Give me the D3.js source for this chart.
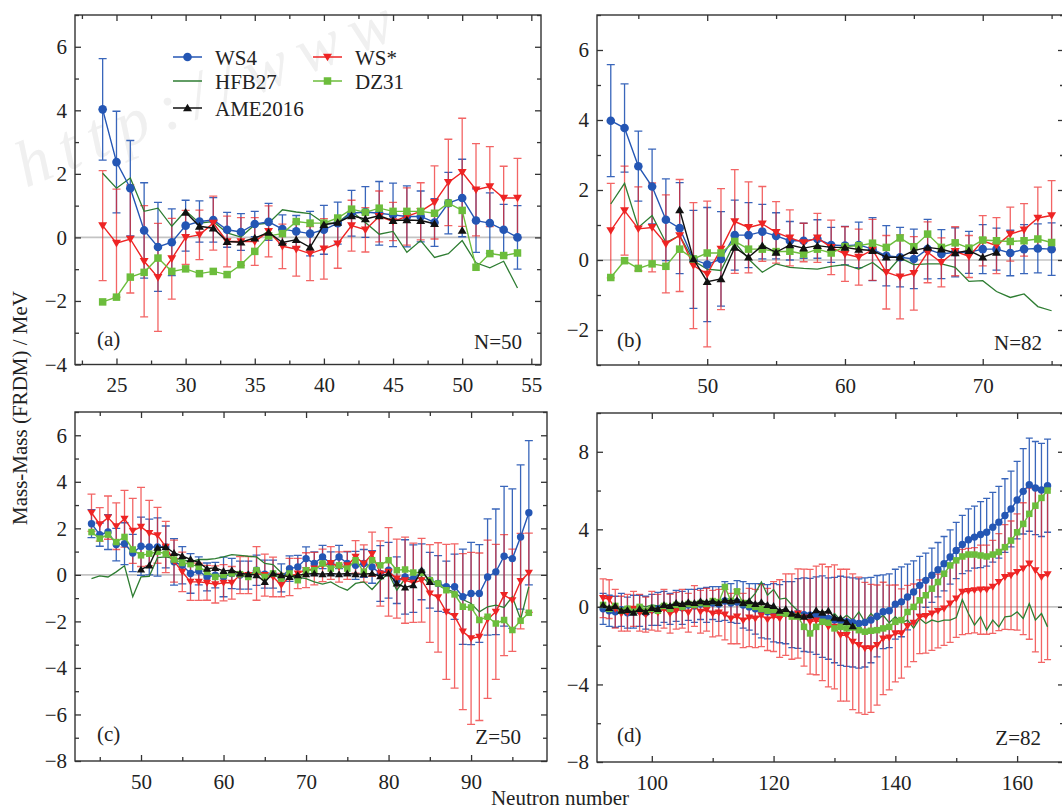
<!DOCTYPE html>
<html><head><meta charset="utf-8">
<script src="https://cdn.jsdelivr.net/npm/d3@7"></script>
<style>
body{margin:0;background:#fff}
svg{display:block}
</style>
</head><body>
<svg id="chart" width="1062" height="810"></svg>
<script>
// ---------------- DATA ----------------
const seriesNames = ["WS4", "HFB27", "AME2016", "WS*", "DZ31"];
const panelTags = ["(a)", "(b)", "(c)", "(d)"];
const panelNames = ["N=50", "N=82", "Z=50", "Z=82"];

// Panel (a) N=50, x = 24..54
const a_start = 24, a_ame_start = 30;
const a_ws4 = [4.03,2.37,1.55,0.22,-0.30,-0.15,0.37,0.50,0.55,0.24,0.17,0.42,0.49,0.26,0.19,0.12,0.24,0.45,0.76,0.80,0.76,0.71,0.66,0.66,0.47,1.08,1.24,0.53,0.45,0.24,0.00];
const a_ws4_err = [1.6,1.6,1.5,1.5,1.4,1.05,0.8,0.65,0.7,0.55,0.58,0.4,0.58,0.45,0.5,0.7,0.77,0.66,0.72,0.8,1.0,1.0,0.96,0.8,0.75,0.97,1.22,1.0,0.95,0.8,1.0];
const a_wss = [0.37,-0.18,-0.05,-0.75,-1.26,-0.67,0.0,0.08,0.45,-0.13,-0.13,-0.13,0.19,-0.28,-0.37,-0.51,-0.36,-0.2,0.37,0.24,0.66,0.5,0.66,0.82,1.1,1.73,2.05,1.5,1.6,1.24,1.24];
const a_wss_err = [1.73,1.7,1.7,1.75,1.7,1.27,0.85,0.78,0.85,0.8,0.75,0.75,0.8,0.7,0.85,0.85,0.95,0.77,0.8,0.7,0.8,0.6,0.9,0.9,1.15,1.36,1.7,1.45,1.26,1.0,1.25];
const a_ame = [0.79,0.35,0.29,-0.13,-0.15,-0.02,0.16,-0.16,-0.07,-0.31,0.4,0.47,0.68,0.58,0.68,0.53,0.55,0.53,0.43,null,0.22];
const a_dz = [-2.03,-1.88,-1.25,-1.1,-0.65,-1.07,-0.99,-1.14,-1.07,-1.17,-0.86,-0.44,0.05,0.12,0.5,0.45,0.45,0.61,0.89,0.79,0.92,0.82,0.82,0.82,0.76,1.08,0.85,-0.94,-0.51,-0.57,-0.49];
const a_hfb = [2.02,1.55,1.87,0.82,0.92,0.35,0.84,0.45,0.5,0.14,0.01,0.4,0.45,0.87,0.8,0.75,0.45,0.45,0.82,0.47,0.1,0.19,-0.47,-0.1,-0.63,-0.51,-0.1,-0.8,-0.96,-0.75,-1.59];

// Panel (b) N=82, x = 43..75
const b_start = 43, b_ame_start = 48;
const b_ws4 = [3.98,3.77,2.68,2.1,1.15,0.91,0.02,-0.13,0.03,0.71,0.71,0.81,0.69,0.55,0.55,0.6,0.43,0.41,0.43,0.31,0.12,0.08,0.03,0.31,0.17,0.22,0.22,0.31,0.31,0.2,0.31,0.33,0.31];
const b_ws4_err = [1.6,1.26,1.0,1.07,1.17,1.3,1.4,1.63,1.35,1.0,0.93,0.78,0.66,0.55,0.5,0.55,0.5,0.55,0.65,0.9,0.86,0.85,0.85,0.85,0.7,0.7,0.6,0.7,0.6,0.65,0.7,0.7,0.75];
const b_wss = [0.84,1.41,0.89,0.93,0.46,0.7,-0.16,-0.4,0.31,1.1,0.93,1.03,0.79,0.63,0.5,0.63,0.36,0.17,0.08,0.29,-0.35,-0.48,-0.38,0.22,-0.07,0.25,0.1,0.55,0.41,0.74,0.86,1.2,1.27];
const b_wss_err = [1.35,1.27,1.2,1.27,1.4,1.6,1.8,2.08,1.73,1.48,1.3,1.07,0.88,0.8,0.55,0.7,0.78,0.78,0.8,0.87,1.05,1.2,1.05,0.87,0.7,0.7,0.6,0.72,0.8,0.77,0.75,0.88,1.0];
const b_ame = [1.43,0.03,-0.62,-0.54,0.36,0.08,0.41,0.22,0.43,0.34,0.41,0.36,0.36,0.3,0.27,0.08,0.08,0.27,0.36,0.31,0.2,0.27,0.08,0.22];
const b_dz = [-0.5,-0.02,-0.24,-0.11,-0.18,0.31,0.03,0.2,0.2,0.53,0.31,0.31,0.24,0.25,0.17,0.31,0.2,0.38,0.41,0.48,0.36,0.63,0.38,0.74,0.36,0.49,0.34,0.57,0.55,0.53,0.55,0.6,0.5];
const b_hfb = [1.6,2.19,0.93,1.27,0.5,0.7,-0.02,-0.26,-0.3,0.5,0.03,-0.35,-0.11,-0.21,-0.24,-0.26,-0.18,-0.13,-0.26,-0.07,-0.38,0.06,-0.13,-0.11,-0.11,-0.21,-0.61,-0.59,-0.9,-1.07,-0.97,-1.33,-1.45];

// Panel (c) Z=50, x = 44..97
const c_start = 44, c_ame_start = 50;
const c_ws4 = [2.2,1.73,1.84,1.3,1.34,0.94,1.23,1.2,1.2,1.2,0.56,0.41,0.06,0.17,-0.09,-0.01,-0.09,0.06,-0.01,-0.01,0.2,0.03,0.03,-0.13,0.27,0.34,0.7,0.49,0.77,0.49,0.77,0.49,0.41,0.49,0.34,0.06,0.2,-0.23,-0.09,-0.16,0.13,-0.23,-0.37,-0.51,-0.51,-0.94,-0.8,-0.8,-0.09,0.13,0.8,0.7,1.63,2.67];
const c_ws4_err = [0.6,0.5,0.75,0.7,0.9,0.8,1.25,1.2,1.25,0.9,1.0,0.8,0.85,0.6,0.6,0.55,0.85,0.65,0.6,0.6,0.65,0.6,0.6,0.6,0.55,0.5,0.5,0.5,0.5,0.5,0.5,0.5,0.6,0.6,0.7,1.2,1.2,1.0,1.6,1.45,1.2,1.2,1.2,1.1,1.4,2.05,2.2,2.1,2.5,2.7,3.0,3.0,3.1,3.1];
const c_wss = [2.67,2.17,2.46,2.09,2.41,1.89,2.06,1.8,1.7,1.2,0.59,0.13,-0.3,-0.3,-0.34,-0.41,-0.34,-0.34,-0.01,-0.01,0.06,-0.01,-0.09,-0.44,-0.09,0.06,0.2,0.27,0.41,0.51,0.34,0.41,0.77,0.49,0.89,0.06,0.13,-0.16,-0.23,-0.34,-0.23,-0.8,-0.97,-1.59,-1.77,-2.44,-2.73,-2.66,-1.91,-1.59,-0.87,-1.09,-0.27,0.09];
const c_wss_err = [0.8,0.72,0.93,1.0,1.22,1.4,1.7,1.4,1.2,1.1,0.9,0.85,0.8,0.8,0.75,0.8,0.78,0.7,0.8,0.8,1.15,0.9,0.85,0.5,0.8,0.65,0.75,0.7,0.7,0.7,0.65,0.6,0.7,0.8,0.95,1.4,1.9,1.7,1.85,1.7,1.8,2.1,2.35,2.9,3.1,3.35,3.7,3.6,3.4,2.9,2.6,2.2,2.05,1.7];
const c_ame = [0.23,0.41,1.17,1.2,0.94,0.81,0.67,0.53,0.27,0.3,0.17,0.2,0.06,0.03,-0.01,-0.3,0.06,-0.01,-0.09,-0.01,0.03,0.06,0.03,0.06,0.03,0.06,0.03,0.03,0.06,-0.06,0.06,-0.37,-0.54,-0.44,0.2,-0.3];
const c_dz = [1.84,1.56,1.73,1.41,1.63,1.09,0.84,0.91,0.99,0.91,0.66,0.51,0.46,0.34,0.13,-0.09,-0.01,0.06,0.03,-0.09,0.2,-0.09,0.06,-0.16,0.06,-0.23,0.2,0.2,0.49,0.27,0.41,0.27,0.63,0.13,0.63,0.41,0.63,0.2,0.23,0.1,0.09,-0.23,-0.37,-0.66,-0.84,-1.37,-1.4,-1.94,-1.8,-2.09,-1.94,-2.37,-1.97,-1.63];
const c_hfb = [-0.16,-0.04,-0.09,0.13,0.39,-0.94,-0.09,-0.06,0.74,0.77,0.7,0.66,0.56,0.66,0.66,0.7,0.77,0.87,0.84,0.8,0.77,0.49,0.44,0.09,-0.06,-0.11,-0.16,-0.3,-0.4,-0.3,-0.51,-0.66,-0.37,-0.3,-0.63,-0.23,0.06,-0.66,-0.16,-0.23,-0.09,-0.37,-0.44,-0.63,-0.73,-1.06,-1.23,-1.59,-1.37,-1.3,-1.4,-0.94,-1.91,-0.51];

// Panel (d) Z=82, x = 92..165
const d_start = 92, d_ame_start = 92;
const d_ws4 = [-0.1,-0.2,-0.25,-0.15,-0.3,-0.25,-0.2,-0.3,-0.15,-0.1,0.0,-0.1,0.05,-0.05,0.1,0.05,0.15,0.1,0.2,0.15,0.3,0.2,0.25,0.1,0.0,-0.1,-0.2,-0.25,-0.3,-0.35,-0.3,-0.4,-0.34,-0.4,-0.43,-0.45,-0.5,-0.6,-0.68,-0.72,-0.77,-0.8,-0.86,-0.8,-0.68,-0.48,-0.25,-0.2,0.14,0.26,0.51,0.77,1.11,1.37,1.63,1.92,2.23,2.57,2.91,3.22,3.46,3.6,3.73,3.85,4.11,4.37,4.71,5.05,5.51,5.96,6.3,6.13,6.03,6.25];
const d_ws4_err = [0.8,0.8,0.8,0.85,0.8,0.85,0.8,0.85,0.8,0.85,0.8,0.8,0.8,0.85,0.8,0.85,0.8,0.9,0.85,0.9,1.0,1.0,1.1,1.2,1.2,1.3,1.4,1.4,1.5,1.5,1.6,1.7,1.8,1.9,1.9,2.0,2.1,2.1,2.2,2.3,2.3,2.3,2.3,2.3,2.2,2.1,1.9,1.9,1.8,1.8,1.7,1.6,1.5,1.4,1.4,1.4,1.4,1.4,1.45,1.5,1.6,1.6,1.7,1.75,1.8,1.85,1.9,1.95,2.0,2.2,2.4,2.4,2.4,2.4];
const d_wss = [0.45,0.4,-0.1,-0.35,-0.3,-0.1,-0.3,-0.4,-0.2,-0.3,-0.1,-0.35,-0.2,-0.1,-0.3,0.05,-0.25,-0.15,-0.35,-0.3,-0.4,-0.6,-0.5,-0.7,-0.55,-0.6,-0.45,-0.65,-0.5,-0.6,-0.4,-0.5,-0.34,-0.55,-0.77,-0.7,-0.8,-1.03,-1.03,-1.46,-1.46,-1.8,-1.97,-2.14,-2.14,-1.97,-1.63,-1.58,-1.37,-1.37,-0.99,-0.82,-0.51,-0.48,-0.34,-0.21,-0.09,0.17,0.43,0.77,0.82,0.86,0.89,0.89,1.03,1.28,1.54,1.63,1.8,1.97,2.23,1.88,1.54,1.68];
const d_wss_err = [1.0,1.0,1.0,0.9,0.95,0.9,0.95,0.9,1.0,0.95,1.0,1.0,0.95,1.0,1.0,1.05,1.1,1.1,1.2,1.2,1.3,1.3,1.4,1.4,1.5,1.5,1.6,1.6,1.8,2.0,2.1,2.2,2.3,2.5,2.7,2.8,3.0,3.1,3.2,3.4,3.4,3.5,3.5,3.4,3.3,3.1,2.9,2.7,2.5,2.3,2.1,2.0,1.9,1.9,1.9,1.9,1.9,2.0,2.0,2.2,2.2,2.2,2.3,2.3,2.4,2.5,2.7,2.8,3.0,3.4,3.9,4.2,4.4,4.4];
const d_ame = [0.1,-0.05,0.05,-0.2,-0.15,-0.3,-0.1,-0.25,-0.05,-0.1,0.1,0.05,0.2,0.15,0.25,0.2,0.3,0.25,0.3,0.2,0.35,0.3,0.35,0.2,0.3,0.15,0.25,0.1,0.05,-0.2,-0.1,-0.35,-0.43,-0.5,-0.43,-0.17,-0.3,-0.2,-0.55,-0.6,-0.77,-1.0];
const d_dz = [0.1,-0.1,0.05,-0.2,-0.1,-0.25,0.0,-0.2,-0.1,-0.2,0.05,-0.1,0.1,0.0,0.15,0.1,0.2,0.15,0.3,0.25,1.03,0.3,0.8,0.2,0.1,0.0,-0.1,-0.2,-0.15,-0.3,-0.35,-0.5,-0.5,-1.03,-1.37,-1.03,-0.77,-0.82,-1.11,-1.03,-1.11,-1.06,-1.2,-1.28,-1.23,-1.2,-1.11,-1.03,-0.77,-0.68,-0.26,0.0,0.34,0.6,0.94,1.28,1.71,2.14,2.4,2.6,2.7,2.7,2.65,2.6,2.7,2.83,3.08,3.42,3.85,4.28,4.8,5.22,5.62,6.0];
const d_hfb = [-0.1,-0.05,0.0,-0.1,0.05,-0.05,0.1,0.0,0.1,0.05,0.15,0.1,0.2,0.15,0.25,0.2,0.3,0.25,0.3,0.3,0.4,0.35,0.4,0.3,0.35,0.7,1.29,0.6,0.9,0.4,0.45,0.1,-0.2,-0.5,-0.34,-0.6,-0.17,-0.68,-0.34,-0.68,-0.43,-0.68,-0.26,-0.77,-0.34,-0.68,-0.43,-0.82,-0.51,-0.82,-0.68,-1.1,-0.6,-0.86,-0.68,-0.77,-0.68,-0.68,-0.55,0.38,-0.34,-0.94,-0.51,-1.2,-0.68,-1.03,-0.51,-0.48,-0.26,-0.6,0.17,-0.68,-0.34,-1.03];

// Axis ticks
const a_xMajor = [25,30,35,40,45,50,55], a_xMinor = [22.5,27.5,32.5,37.5,42.5,47.5,52.5];
const a_yMajor = [-4,-2,0,2,4,6], a_yMinor = [-3,-1,1,3,5,7];
const b_xMajor = [50,60,70], b_xMinor = [45,55,65,75];
const b_yMajor = [-2,0,2,4,6], b_yMinor = [-3,-1,1,3,5,7];
const c_xMajor = [50,60,70,80,90], c_xMinor = [45,55,65,75,85,95];
const c_yMajor = [-8,-6,-4,-2,0,2,4,6], c_yMinor = [-7,-5,-3,-1,1,3,5,7];
const d_xMajor = [100,120,140,160], d_xMinor = [110,130,150];
const d_yMajor = [-8,-4,0,4,8], d_yMinor = [-6,-2,2,6,10];

// ---------------- STYLE ----------------
const FONT = "'Liberation Serif', 'Times New Roman', serif";
const COL = {ws4:"#2456b4", hfb:"#2e7d32", ame:"#111111", wss:"#ee2424", dz:"#6cbd3c"};
const svg = d3.select("#chart").style("font-family", FONT);
const fmt = v => (v < 0 ? "\u2212" + Math.abs(v) : String(v));
const txt = (sel) => sel.style("font-family", FONT).style("fill", "#222");

// faint watermark
svg.append("text").attr("transform","translate(26,188) rotate(-22)")
  .attr("font-size",66).attr("font-style","italic").style("font-family",FONT).style("fill","#f0f0f0")
  .attr("letter-spacing",12).text("http://www");

function pts(start, vals, errs) {
  return vals.map((v,i) => ({x:start+i, y:v, e: errs ? errs[i] : null}));
}

const triDown = d3.symbol().type({draw(ctx,size){const r=Math.sqrt(size/1.3);ctx.moveTo(-r,-r*0.75);ctx.lineTo(r,-r*0.75);ctx.lineTo(0,r*0.95);ctx.closePath();}});
const triUp = d3.symbol().type({draw(ctx,size){const r=Math.sqrt(size/1.3);ctx.moveTo(-r,r*0.75);ctx.lineTo(r,r*0.75);ctx.lineTo(0,-r*0.95);ctx.closePath();}});

function drawPanel(cfg) {
  const x = d3.scaleLinear().domain(cfg.xd).range([cfg.L, cfg.R]);
  const y = d3.scaleLinear().domain(cfg.yd).range([cfg.B, cfg.T]);
  const g = svg.append("g");
  const clipId = "clip" + cfg.id;
  g.append("clipPath").attr("id", clipId).append("rect")
    .attr("x", cfg.L).attr("y", cfg.T).attr("width", cfg.R-cfg.L).attr("height", cfg.B-cfg.T);
  const plot = g.append("g").attr("clip-path", `url(#${clipId})`);

  plot.append("line").attr("x1",cfg.L).attr("x2",cfg.R).attr("y1",y(0)).attr("y2",y(0))
    .attr("stroke","#c4c4c4").attr("stroke-width",1.6);

  const ms = cfg.ms;
  const errbars = (data, color, op) => {
    const eg = plot.append("g").attr("stroke", color).attr("stroke-width",1.3).attr("opacity",op).attr("fill","none");
    data.forEach(d => {
      const xx = x(d.x), y1 = y(d.y + d.e), y2 = y(d.y - d.e), cw = cfg.cap;
      eg.append("path").attr("d", `M${xx},${y1}V${y2}M${xx-cw},${y1}H${xx+cw}M${xx-cw},${y2}H${xx+cw}`);
    });
  };
  const line = d3.line().defined(d => d.y !== null).x(d => x(d.x)).y(d => y(d.y));
  const drawLine = (data, color, w) => plot.append("path").datum(data).attr("d", line)
    .attr("fill","none").attr("stroke",color).attr("stroke-width",w);

  const ws4 = pts(cfg.start, cfg.ws4, cfg.ws4e);
  const wss = pts(cfg.start, cfg.wss, cfg.wsse);
  const ame = pts(cfg.ameStart, cfg.ame);
  const dz = pts(cfg.start, cfg.dz);
  const hfb = pts(cfg.start, cfg.hfb);

  errbars(ws4, COL.ws4, 0.9);
  errbars(wss, COL.wss, 0.7);
  drawLine(hfb, COL.hfb, 1.3);
  drawLine(ws4, COL.ws4, 1.4);
  plot.append("g").selectAll("circle").data(ws4).join("circle")
    .attr("cx", d=>x(d.x)).attr("cy", d=>y(d.y)).attr("r", ms.c).attr("fill", COL.ws4);
  drawLine(wss, COL.wss, 1.4);
  plot.append("g").selectAll("path").data(wss).join("path")
    .attr("transform", d=>`translate(${x(d.x)},${y(d.y)})`).attr("d", triDown.size(ms.t)).attr("fill", COL.wss);
  drawLine(dz, COL.dz, 1.4);
  plot.append("g").selectAll("rect").data(dz).join("rect")
    .attr("x", d=>x(d.x)-ms.s/2).attr("y", d=>y(d.y)-ms.s/2).attr("width", ms.s).attr("height", ms.s).attr("fill", COL.dz);
  drawLine(ame, COL.ame, 1.4);
  plot.append("g").selectAll("path").data(ame.filter(d=>d.y!==null)).join("path")
    .attr("transform", d=>`translate(${x(d.x)},${y(d.y)})`).attr("d", triUp.size(ms.t)).attr("fill", COL.ame);

  g.append("rect").attr("x",cfg.L).attr("y",cfg.T).attr("width",cfg.R-cfg.L).attr("height",cfg.B-cfg.T)
    .attr("fill","none").attr("stroke","#333").attr("stroke-width",1.4);

  g.append("g").attr("transform",`translate(0,${cfg.B})`)
    .call(d3.axisBottom(x).tickValues(cfg.xMajor).tickSize(-6).tickPadding(13).tickFormat(fmt));
  g.append("g").attr("transform",`translate(0,${cfg.B})`)
    .call(d3.axisBottom(x).tickValues(cfg.xMinor).tickSize(-4).tickFormat(""));
  g.append("g").attr("transform",`translate(0,${cfg.T})`)
    .call(d3.axisTop(x).tickValues(cfg.xMajor).tickSize(-6).tickFormat(""));
  g.append("g").attr("transform",`translate(0,${cfg.T})`)
    .call(d3.axisTop(x).tickValues(cfg.xMinor).tickSize(-4).tickFormat(""));
  g.append("g").attr("transform",`translate(${cfg.L},0)`)
    .call(d3.axisLeft(y).tickValues(cfg.yMajor).tickSize(-6).tickPadding(8).tickFormat(fmt));
  g.append("g").attr("transform",`translate(${cfg.L},0)`)
    .call(d3.axisLeft(y).tickValues(cfg.yMinor).tickSize(-4).tickFormat(""));
  g.append("g").attr("transform",`translate(${cfg.R},0)`)
    .call(d3.axisRight(y).tickValues(cfg.yMajor).tickSize(-6).tickFormat(""));
  g.append("g").attr("transform",`translate(${cfg.R},0)`)
    .call(d3.axisRight(y).tickValues(cfg.yMinor).tickSize(-4).tickFormat(""));
  g.selectAll(".domain").remove();
  g.selectAll(".tick line").attr("stroke","#333").attr("stroke-width",1.3);
  g.selectAll(".tick text").attr("font-size",21).call(txt);

  g.append("text").attr("x", cfg.tagX).attr("y", cfg.tagY).attr("font-size",21).call(txt).text(cfg.tag);
  g.append("text").attr("x", cfg.nameX).attr("y", cfg.tagY+3).attr("font-size",21).call(txt)
    .attr("text-anchor","end").text(cfg.name);
}

const msBig = {c:4.3, t:26, s:7.5};
const msSmall = {c:3.7, t:22, s:6.5};

drawPanel({id:"a", xd:[22,55.7], yd:[-4,7], L:75, R:541, T:15, B:364.5,
  start:a_start, ameStart:a_ame_start, ws4:a_ws4, ws4e:a_ws4_err, wss:a_wss, wsse:a_wss_err,
  ame:a_ame, dz:a_dz, hfb:a_hfb, xMajor:a_xMajor, xMinor:a_xMinor, yMajor:a_yMajor, yMinor:a_yMinor,
  ms:msBig, cap:4, tag:panelTags[0], name:panelNames[0], tagX:97, tagY:346, nameX:522});

drawPanel({id:"b", xd:[42,75.9], yd:[-3,7], L:597, R:1064, T:15, B:365,
  start:b_start, ameStart:b_ame_start, ws4:b_ws4, ws4e:b_ws4_err, wss:b_wss, wsse:b_wss_err,
  ame:b_ame, dz:b_dz, hfb:b_hfb, xMajor:b_xMajor, xMinor:b_xMinor, yMajor:b_yMajor, yMinor:b_yMinor,
  ms:msBig, cap:4, tag:panelTags[1], name:panelNames[1], tagX:617, tagY:347, nameX:1042});

drawPanel({id:"c", xd:[42,99.2], yd:[-8,7], L:75, R:547, T:412, B:761,
  start:c_start, ameStart:c_ame_start, ws4:c_ws4, ws4e:c_ws4_err, wss:c_wss, wsse:c_wss_err,
  ame:c_ame, dz:c_dz, hfb:c_hfb, xMajor:c_xMajor, xMinor:c_xMinor, yMajor:c_yMajor, yMinor:c_yMinor,
  ms:msSmall, cap:4, tag:panelTags[2], name:panelNames[2], tagX:97, tagY:741, nameX:521});

drawPanel({id:"d", xd:[91,167.7], yd:[-8,10], L:597, R:1064, T:413, B:762,
  start:d_start, ameStart:d_ame_start, ws4:d_ws4, ws4e:d_ws4_err, wss:d_wss, wsse:d_wss_err,
  ame:d_ame, dz:d_dz, hfb:d_hfb, xMajor:d_xMajor, xMinor:d_xMinor, yMajor:d_yMajor, yMinor:d_yMinor,
  ms:msSmall, cap:3.5, tag:panelTags[3], name:panelNames[3], tagX:617, tagY:742, nameX:1041});

// axis titles
svg.append("text").attr("x",560).attr("y",805).attr("text-anchor","middle").attr("font-size",21).call(txt).text("Neutron number");
svg.append("text").attr("transform","translate(27,408) rotate(-90)").attr("text-anchor","middle")
  .attr("font-size",21).call(txt).text("Mass-Mass (FRDM) / MeV");

// legend (panel a)
const legend = [
  {name:seriesNames[0], col:COL.ws4, mk:"c", x:173, y:57},
  {name:seriesNames[1], col:COL.hfb, mk:null, x:173, y:81},
  {name:seriesNames[2], col:COL.ame, mk:"u", x:173, y:108},
  {name:seriesNames[3], col:COL.wss, mk:"d", x:313, y:57},
  {name:seriesNames[4], col:COL.dz, mk:"s", x:313, y:81}
];
const lg = svg.append("g");
legend.forEach(l => {
  lg.append("line").attr("x1",l.x).attr("x2",l.x+29).attr("y1",l.y).attr("y2",l.y).attr("stroke",l.col).attr("stroke-width",1.5);
  const cx = l.x+14.5;
  if (l.mk==="c") lg.append("circle").attr("cx",cx).attr("cy",l.y).attr("r",4.3).attr("fill",l.col);
  if (l.mk==="u") lg.append("path").attr("transform",`translate(${cx},${l.y})`).attr("d",triUp.size(26)).attr("fill",l.col);
  if (l.mk==="d") lg.append("path").attr("transform",`translate(${cx},${l.y})`).attr("d",triDown.size(26)).attr("fill",l.col);
  if (l.mk==="s") lg.append("rect").attr("x",cx-3.75).attr("y",l.y-3.75).attr("width",7.5).attr("height",7.5).attr("fill",l.col);
  lg.append("text").attr("x",l.x+42).attr("y",l.y+7.5).attr("font-size",21).call(txt).text(l.name);
});
</script>
</body></html>
